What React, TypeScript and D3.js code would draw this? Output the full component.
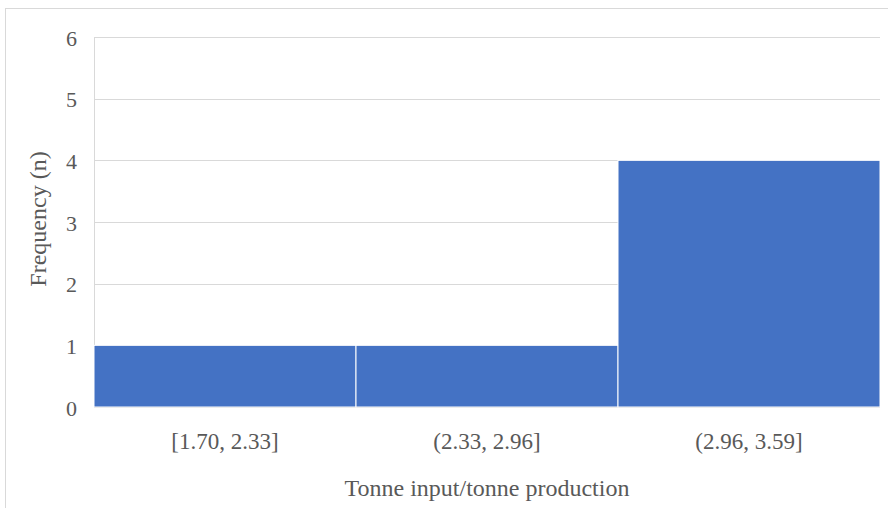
import React from "react";
import * as d3 from "d3";

const categories = ["[1.70, 2.33]", "(2.33, 2.96]", "(2.96, 3.59]"];
const frequencies = [1, 1, 4];
const yTicks = [0, 1, 2, 3, 4, 5, 6];
const xTitle = "Tonne input/tonne production";
const yTitle = "Frequency (n)";

export default function App() {
  const W = 888, H = 508;
  const left = 94, right = 880, top = 37, bottom = 407;
  const x = d3.scaleBand().domain(categories).range([left, right]).paddingInner(0).paddingOuter(0);
  const y = d3.scaleLinear().domain([0, 6]).range([bottom, top]);
  const font = "'Liberation Serif', 'Times New Roman', serif";
  const textColor = "#595959";
  return (
    <svg width={W} height={H} style={{ position: "absolute", left: 0, top: 0 }}>
      <rect x={0} y={0} width={W} height={H} fill="#fff" />
      <rect x={5.5} y={8.5} width={W + 10} height={H + 10} fill="none" stroke="#d9d9d9" strokeWidth={1} />
      {yTicks.map((t) => (
        <g key={t}>
          <line x1={left} x2={right} y1={Math.round(y(t)) + 0.5} y2={Math.round(y(t)) + 0.5} stroke="#d9d9d9" strokeWidth={1} />
          <text x={77} y={y(t) + 1} dy="0.35em" textAnchor="end" fontFamily={font} fontSize={22} fill={textColor}>
            {t}
          </text>
        </g>
      ))}
      <line x1={left + 0.5} x2={left + 0.5} y1={top} y2={bottom} stroke="#d9d9d9" strokeWidth={1} />
      {categories.map((c, i) => (
        <rect
          key={c}
          x={x(c)!}
          y={y(frequencies[i])}
          width={x.bandwidth()}
          height={y(0) - y(frequencies[i])}
          fill="#4472C4"
          stroke="#ffffff"
          strokeWidth={1}
        />
      ))}
      {categories.map((c) => (
        <text key={c} x={x(c)! + x.bandwidth() / 2} y={441} dy="0.35em" textAnchor="middle" fontFamily={font} fontSize={23} fill={textColor}>
          {c}
        </text>
      ))}
      <text x={487} y={488} dy="0.35em" textAnchor="middle" fontFamily={font} fontSize={24} fill={textColor}>
        {xTitle}
      </text>
      <text transform={`translate(38, ${219}) rotate(-90)`} dy="0.35em" textAnchor="middle" fontFamily={font} fontSize={24} fill={textColor}>
        {yTitle}
      </text>
    </svg>
  );
}
